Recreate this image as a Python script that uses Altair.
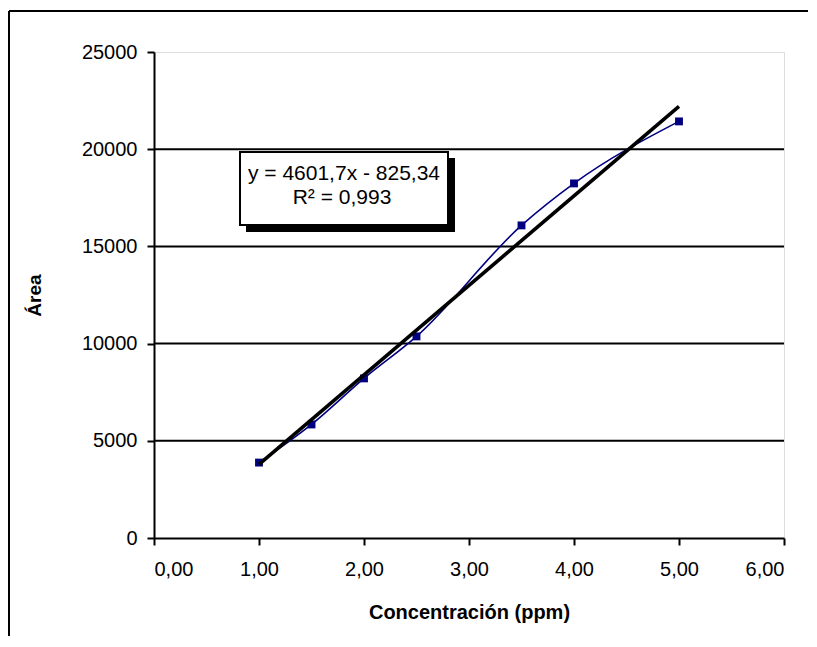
import altair as alt
import pandas as pd

# Data
conc = [1.0, 1.5, 2.0, 2.5, 3.5, 4.0, 5.0]
area = [3880, 5840, 8210, 10370, 16080, 18240, 21430]
grid_values = [5000, 10000, 15000, 20000]
eq_line1 = "y = 4601,7x - 825,34"
eq_line2 = "R² = 0,993"

df = pd.DataFrame({"x": conc, "y": area})
grid_df = pd.DataFrame({"g": grid_values})

FONT = "Liberation Sans"
W, H = 630, 486
NAVY = "#000080"

x_scale = alt.Scale(domain=[0, 6], nice=False)
y_scale = alt.Scale(domain=[0, 25000], nice=False)

x_axis = alt.Axis(
    title="Concentración (ppm)",
    values=[0, 1, 2, 3, 4, 5, 6],
    labelExpr="replace(format(datum.value, '.2f'), '.', ',')",
    grid=False,
    tickSize=7, tickWidth=2, tickColor="black",
    domainColor="black", domainWidth=2,
    labelFontSize=20, labelFont=FONT, labelColor="black", labelPadding=14,
    titleFontSize=20, titleFont=FONT, titleFontWeight="bold", titleColor="black",
    titlePadding=23,
)
y_axis = alt.Axis(
    title="Área",
    values=[0, 5000, 10000, 15000, 20000, 25000],
    format="d",
    grid=False,
    tickSize=7, tickWidth=2, tickColor="black",
    domainColor="black", domainWidth=2,
    labelFontSize=20, labelFont=FONT, labelColor="black", labelPadding=10,
    titleFontSize=19, titleFont=FONT, titleFontWeight="bold", titleColor="black",
    titlePadding=37,
)

base = alt.Chart(df)

grid = alt.Chart(grid_df).mark_rule(color="black", strokeWidth=2).encode(
    y=alt.Y("g:Q", scale=y_scale, axis=y_axis)
)

line = base.mark_line(color=NAVY, strokeWidth=1.6, interpolate="monotone").encode(
    x=alt.X("x:Q", scale=x_scale, axis=x_axis),
    y=alt.Y("y:Q", scale=y_scale, axis=y_axis),
)

points = base.mark_point(shape="square", filled=True, size=62, color=NAVY, opacity=1).encode(
    x=alt.X("x:Q", scale=x_scale),
    y=alt.Y("y:Q", scale=y_scale),
)

trend = base.transform_regression("x", "y", method="linear").mark_line(
    color="black", strokeWidth=3.6
).encode(
    x=alt.X("x:Q", scale=x_scale),
    y=alt.Y("y:Q", scale=y_scale),
)

one = pd.DataFrame({"a": [0]})

# Annotation box (pixel positions relative to plot area)
shadow = alt.Chart(one).mark_rect(color="black").encode(
    x=alt.value(92), x2=alt.value(301), y=alt.value(106), y2=alt.value(180)
)
box = alt.Chart(one).mark_rect(
    fill="white", stroke="black", strokeWidth=2
).encode(
    x=alt.value(86), x2=alt.value(294), y=alt.value(100), y2=alt.value(173)
)
txt1 = alt.Chart(pd.DataFrame({"t": [eq_line1]})).mark_text(
    font=FONT, fontSize=21, color="black", align="center", baseline="alphabetic"
).encode(text="t:N", x=alt.value(190), y=alt.value(128))
txt2 = alt.Chart(pd.DataFrame({"t": [eq_line2]})).mark_text(
    font=FONT, fontSize=21, color="black", align="center", baseline="alphabetic"
).encode(text="t:N", x=alt.value(188), y=alt.value(152))

# Outer chart frame (left and top edges; the others lie outside the picture)
frame_left = alt.Chart(one).mark_rule(color="black", strokeWidth=2, clip=False).encode(
    x=alt.value(-145), y=alt.value(-41), y2=alt.value(700)
)
frame_top = alt.Chart(one).mark_rule(color="black", strokeWidth=2, clip=False).encode(
    y=alt.value(-41), x=alt.value(-145), x2=alt.value(800)
)

chart = alt.layer(
    frame_left, frame_top, grid, line, points, trend, shadow, box, txt1, txt2
).properties(
    width=W, height=H,
    autosize=alt.AutoSizeParams(type="none"),
    padding={"left": 146, "top": 44, "right": 24, "bottom": 98},
).configure_view(
    stroke="#808080", strokeWidth=2
).configure(background="white")

chart.save("out.html", embed_options={"renderer": "svg", "actions": False})
